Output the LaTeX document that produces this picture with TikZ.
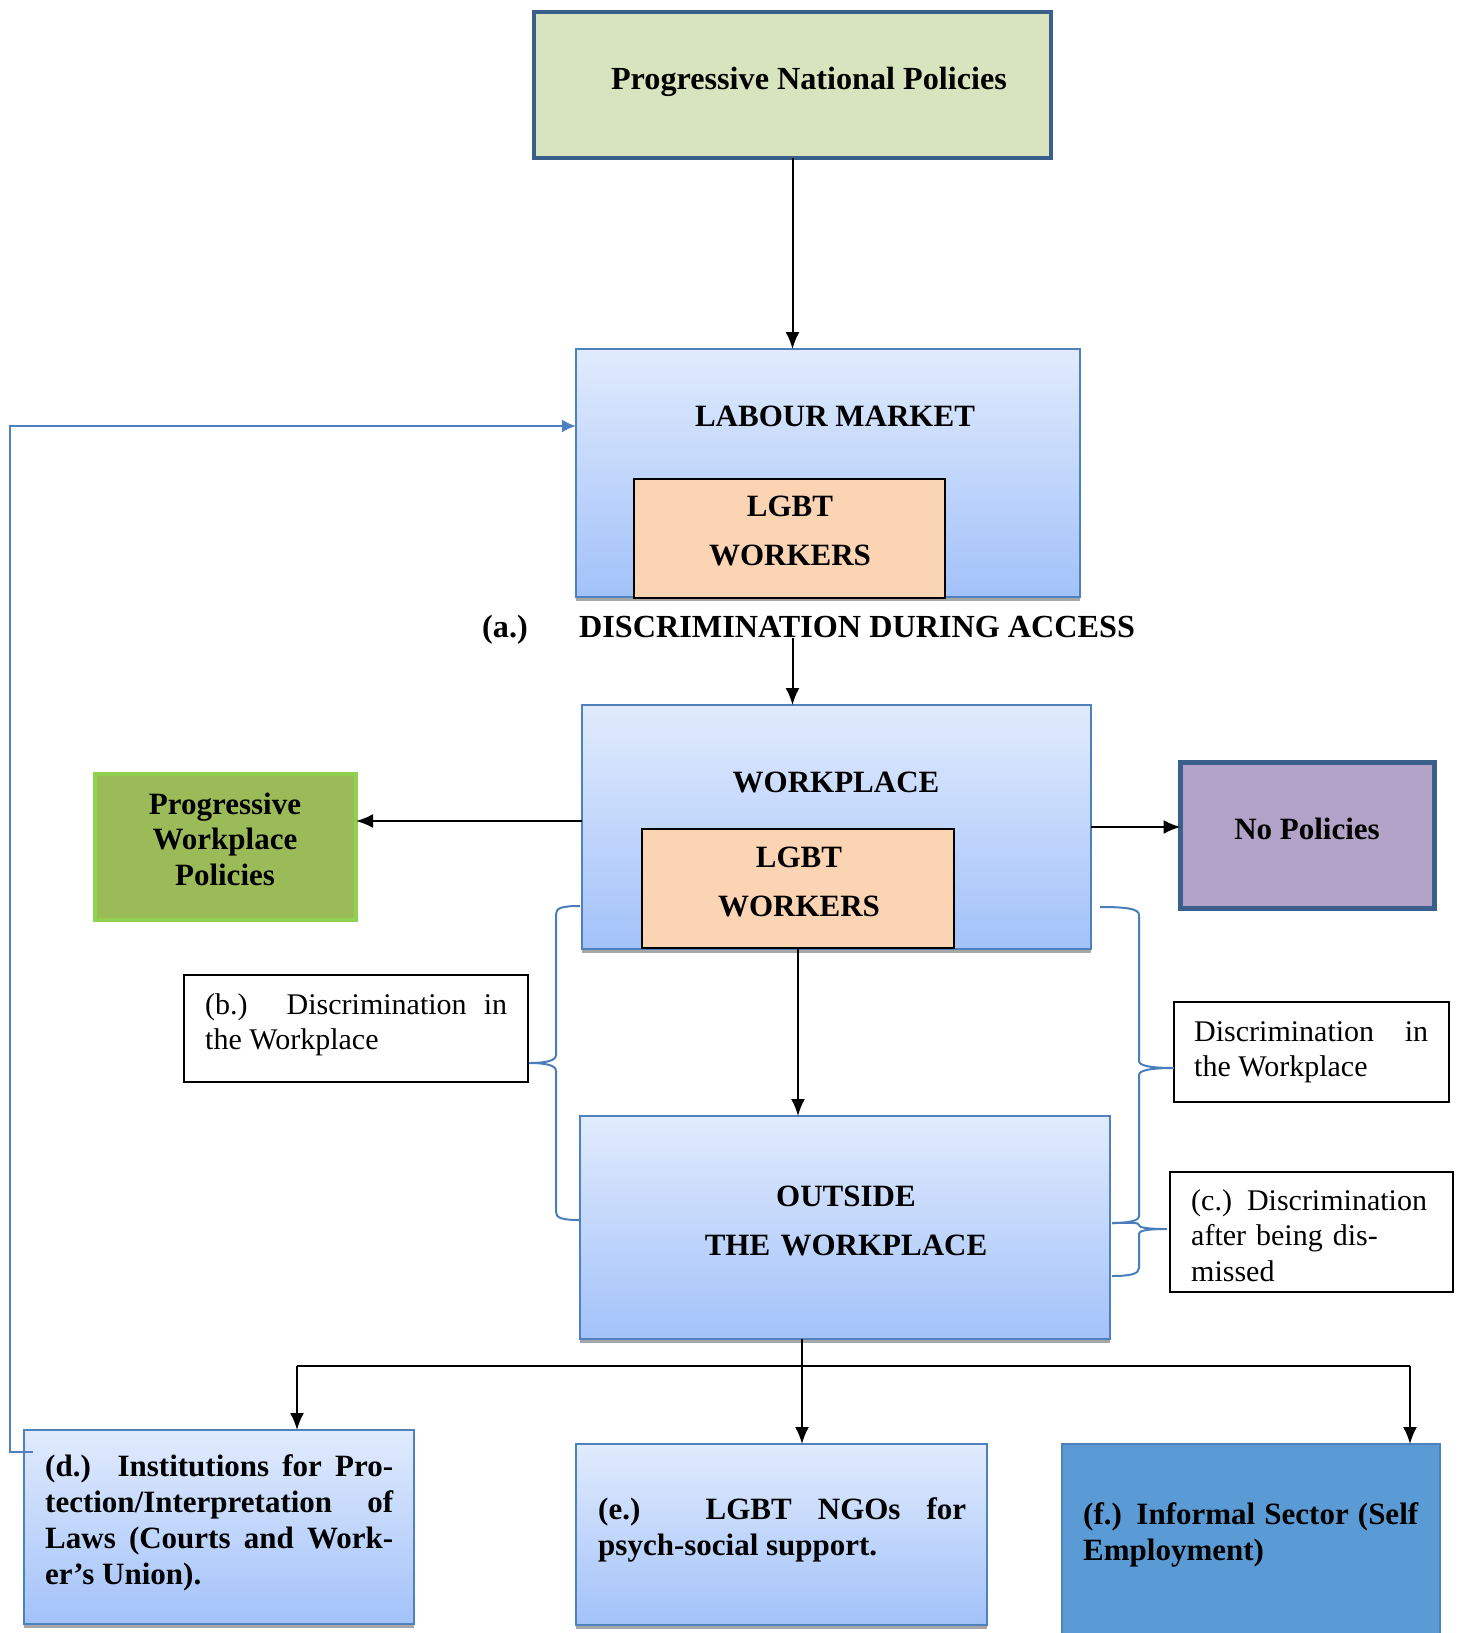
\documentclass[tikz,border=0pt]{standalone}
\usepackage{fontspec}
\setmainfont{Liberation Serif}
\usetikzlibrary{arrows.meta,shadows}

\definecolor{natgreen}{HTML}{D7E4BD}
\definecolor{darkframe}{HTML}{3A5F8B}
\definecolor{boxtop}{HTML}{E1EBFD}
\definecolor{boxbottom}{HTML}{A2C2F9}
\definecolor{boxline}{HTML}{4F81BD}
\definecolor{peach}{HTML}{FBD4B4}
\definecolor{olivegreen}{HTML}{9BBB59}
\definecolor{limeframe}{HTML}{92D050}
\definecolor{lilac}{HTML}{B3A2C7}
\definecolor{informal}{HTML}{5B9BD5}
\definecolor{braceblue}{HTML}{4A7EBB}

\newcommand{\capsfont}{\fontsize{31}{49}\selectfont\bfseries}
\newcommand{\widefont}{\fontsize{32.2}{49}\selectfont\bfseries}
\newcommand{\listfont}{\fontsize{31}{36}\selectfont\bfseries}
\newcommand{\plainfont}{\fontsize{30}{35.5}\selectfont}
\tolerance=10000
\hbadness=10000

\begin{document}
\begin{tikzpicture}[x=1pt,y=-1pt,
  box/.style={rectangle,inner sep=0pt,outer sep=0pt},
  bluebox/.style={box,draw=boxline,line width=2pt,top color=boxtop,bottom color=boxbottom,
    drop shadow={shadow xshift=0pt,shadow yshift=-4pt,fill=black!35,opacity=1}},
  workers/.style={box,draw=black,line width=1.3pt,fill=peach},
  note/.style={box,draw=black,line width=1.2pt,fill=white},
  txt/.style={inner sep=0pt,anchor=base},
  ltxt/.style={inner sep=0pt,anchor=base west,align=justify},
  arr/.style={line width=2pt,-{Latex[length=17pt,width=14pt]}},
  brc/.style={draw=braceblue,line width=2pt},
  fbline/.style={draw=boxline,line width=2.2pt,-{Latex[length=14pt,width=13pt]}}
]
\useasboundingbox (0,0) rectangle (1464,1633);

% Top - national policies
\node[box,draw=darkframe,line width=4pt,fill=natgreen,minimum width=517pt,minimum height=146pt] (natpol) at (792.5,85) {};
\node[txt,font=\widefont] (natpoltxt) at (809,89) {Progressive National Policies};

% Labour market
\node[bluebox,minimum width=504pt,minimum height=248pt] (labour) at (828,473) {};
\node[txt,font=\capsfont] (labourtxt) at (835,426) {LABOUR MARKET};
\node[workers,minimum width=311pt,minimum height=119pt] (lgbt1) at (789.5,538.5) {};
\node[txt,font=\capsfont,text width=300pt,align=center] (lgbt1txt) at (790,516) {LGBT\\WORKERS};
\draw[arr] (natpol.south) -- (natpol.south |- labour.north);

% (a.) access
\node[txt,font=\widefont] (atag) at (505,637) {(a.)};
\node[ltxt,font=\widefont] (accesstxt) at (579,637) {DISCRIMINATION DURING ACCESS};

% Workplace
\node[bluebox,minimum width=509pt,minimum height=244pt] (work) at (836.5,827) {};
\node[txt,font=\capsfont] (worktxt) at (836,792) {WORKPLACE};
\node[workers,minimum width=312pt,minimum height=119pt] (lgbt2) at (798,888.5) {};
\node[txt,font=\capsfont,text width=300pt,align=center] (lgbt2txt) at (799,867) {LGBT\\WORKERS};
\draw[arr] (accesstxt.south -| natpol.south) -- (natpol.south |- work.north);

% Left and right - policies
\node[box,draw=limeframe,line width=4pt,fill=olivegreen,minimum width=261pt,minimum height=146pt] (pwp) at (225.5,847) {};
\node[txt,font=\fontsize{31}{35.5}\selectfont\bfseries,text width=250pt,align=center] (pwptxt) at (225,814) {Progressive\\Workplace\\Policies};
\node[box,draw=darkframe,line width=5pt,fill=lilac,minimum width=254pt,minimum height=146pt] (nopol) at (1307.5,835.5) {};
\node[txt,font=\capsfont] (nopoltxt) at (1307,839) {No Policies};
\draw[arr] ([yshift=6pt]work.west) -- ([yshift=6pt]work.west -| pwp.east);
\draw[arr] (work.east) -- (work.east -| nopol.west);

% Outside the workplace
\node[bluebox,minimum width=530pt,minimum height=223pt] (out) at (845,1227.5) {};
\node[txt,font=\capsfont,text width=500pt,align=center] (outtxt) at (846,1206) {OUTSIDE\\THE WORKPLACE};
\draw[arr] (lgbt2.south) -- (lgbt2.south |- out.north);

% Notes and braces
\node[note,minimum width=344pt,minimum height=107pt] (bbox) at (356,1028.5) {};
\node[ltxt,font=\plainfont,text width=302pt] (btxt) at (205,1014) {(b.) Discrimination in\linebreak the Workplace};
\node[note,minimum width=275pt,minimum height=100pt] (dwbox) at (1311.5,1052) {};
\node[ltxt,font=\plainfont,text width=234pt] (dwtxt) at (1194,1041) {Discrimination in\linebreak the Workplace};
\node[note,minimum width=283pt,minimum height=120pt] (cbox) at (1311.5,1232) {};
\node[ltxt,font=\plainfont,text width=250pt,align=left] (ctxt) at (1191,1210) {(c.) Discrimination\\after being dis-\\missed};

\draw[brc] (580,906) .. controls (562,906) and (556,908) .. (556,914) -- (556,1055)
  .. controls (556,1061) and (545,1063) .. (529,1063) .. controls (545,1063) and (556,1065) .. (556,1071)
  -- (556,1212) .. controls (556,1218) and (562,1220) .. (580,1220);
\draw[brc] (1100,907) .. controls (1128,907) and (1139,909) .. (1139,915) -- (1139,1061)
  .. controls (1139,1066) and (1152,1068) .. (1174,1068) .. controls (1152,1068) and (1139,1070) .. (1139,1075)
  -- (1139,1216) .. controls (1139,1221) and (1128,1223) .. (1112,1223);
\draw[brc] (1112,1223) .. controls (1130,1223) and (1139,1222) .. (1139,1225)
  .. controls (1139,1228) and (1150,1229) .. (1167,1229) .. controls (1150,1229) and (1139,1230) .. (1139,1234)
  -- (1139,1268) .. controls (1139,1274) and (1130,1276) .. (1112,1276);

% Bottom - support
\node[bluebox,minimum width=390pt,minimum height=194pt] (dbox) at (219,1527) {};
\node[ltxt,font=\listfont,text width=348pt] (dtxt) at (45,1476) {(d.) Institutions for Pro-\linebreak tection/Interpretation of\linebreak Laws (Courts and Work-\linebreak er's Union).};
\node[bluebox,minimum width=411pt,minimum height=181pt] (ebox) at (781.5,1534.5) {};
\node[ltxt,font=\listfont,text width=368pt] (etxt) at (598,1519) {(e.) LGBT NGOs for\linebreak psych-social support.};
\node[box,draw=boxline,line width=2pt,fill=informal,minimum width=378pt,minimum height=206pt] (fbox) at (1251,1547) {};
\node[ltxt,font=\listfont,text width=335pt] (ftxt) at (1083,1524) {(f.) Informal Sector (Self\linebreak Employment)};

\coordinate (split) at (802,1366);
\coordinate (splitl) at (297,1366);
\coordinate (splitr) at (1410,1366);
\draw[line width=2pt] (out.south -| split) -- (split);
\draw[line width=2.5pt] (splitl) -- (splitr);
\draw[arr] (splitl) -- (splitl |- dbox.north);
\draw[arr] (split) -- (split |- ebox.north);
\draw[arr] (splitr) -- (splitr |- fbox.north);

% Feedback to labour market
\coordinate (fbfoot) at (33,1452);
\coordinate (fbcorner) at (10,426);
\draw[fbline] (fbfoot) -- (fbfoot -| fbcorner) -- (fbcorner) -- (fbcorner -| labour.west);
\end{tikzpicture}
\end{document}
